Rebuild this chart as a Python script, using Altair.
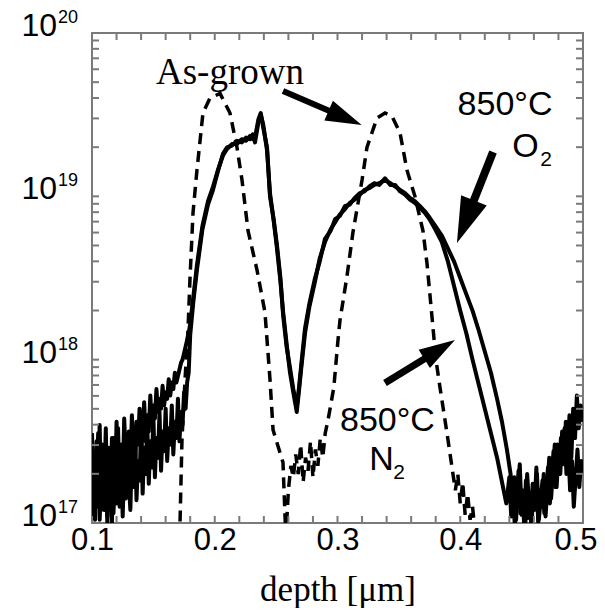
import math
import altair as alt
import pandas as pd

# ---------------- data: depth [um] and log10(concentration) ----------------
# left background region, sampled finely (shared depth grid)
left_depth = [0.10000, 0.10125, 0.10250, 0.10375, 0.10500, 0.10625, 0.10750, 0.10875, 0.11000, 0.11125,
              0.11250, 0.11375, 0.11500, 0.11625, 0.11750, 0.11875, 0.12000, 0.12125, 0.12250, 0.12375,
              0.12500, 0.12625, 0.12750, 0.12875, 0.13000, 0.13125, 0.13250, 0.13375, 0.13500, 0.13625,
              0.13750, 0.13875, 0.14000, 0.14125, 0.14250, 0.14375, 0.14500, 0.14625, 0.14750, 0.14875,
              0.15000, 0.15125, 0.15250, 0.15375, 0.15500, 0.15625, 0.15750, 0.15875, 0.16000, 0.16125,
              0.16250, 0.16375, 0.16500, 0.16625, 0.16750, 0.16875, 0.17000, 0.17125, 0.17250, 0.17375,
              0.17500, 0.17625, 0.17750, 0.17875]
o2_left_log = [17.30, 17.05, 17.42, 17.10, 17.55, 17.02, 17.28, 17.48, 17.08, 17.35,
               17.00, 17.45, 17.18, 17.52, 17.06, 17.30, 17.12, 17.58, 17.20, 17.40,
               17.04, 17.36, 17.15, 17.50, 17.25, 17.08, 17.44, 17.22, 17.56, 17.14,
               17.38, 17.26, 17.60, 17.18, 17.46, 17.30, 17.62, 17.24, 17.50, 17.34,
               17.66, 17.28, 17.52, 17.40, 17.68, 17.32, 17.56, 17.44, 17.70, 17.38,
               17.58, 17.48, 17.72, 17.42, 17.62, 17.52, 17.76, 17.50, 17.68, 17.60,
               17.80, 17.70, 17.86, 17.92]
n2_left_log = [17.55, 17.15, 17.02, 17.50, 17.30, 17.60, 17.08, 17.40, 17.22, 17.58,
               17.04, 17.46, 17.28, 17.00, 17.52, 17.18, 17.62, 17.34, 17.10, 17.48,
               17.26, 17.64, 17.40, 17.20, 17.56, 17.36, 17.66, 17.44, 17.30, 17.62,
               17.48, 17.70, 17.42, 17.58, 17.74, 17.50, 17.66, 17.56, 17.78, 17.60,
               17.72, 17.64, 17.82, 17.68, 17.76, 17.70, 17.84, 17.72, 17.80, 17.76,
               17.88, 17.78, 17.86, 17.82, 17.92, 17.86, 17.90, 17.94, 17.98, 18.00,
               18.04, 18.08, 18.12, 18.16]

# two implanted peaks (shared depth grid)
body_depth = [0.1800, 0.1825, 0.1855, 0.1900, 0.1945, 0.1986, 0.2025, 0.2067,
              0.2100, 0.2140, 0.2180, 0.2220, 0.2255, 0.2287, 0.2310, 0.2328, 0.2355, 0.2375,
              0.2395, 0.2426, 0.2450, 0.2480, 0.2507, 0.2535, 0.2556, 0.2585, 0.2613, 0.2640,
              0.2668, 0.2685, 0.2705, 0.2735, 0.2770, 0.2817, 0.2855, 0.2898, 0.2945, 0.2980,
              0.3020, 0.3060, 0.3100, 0.3140, 0.3183, 0.3220, 0.3260, 0.3300, 0.3340, 0.3387,
              0.3430, 0.3470, 0.3510, 0.3550, 0.3590, 0.3630, 0.3672, 0.3710, 0.3750, 0.3795,
              0.3850, 0.3900, 0.3950, 0.4000, 0.4050, 0.4100, 0.4150, 0.4200, 0.4250, 0.4300,
              0.4340]
o2_body_log = [18.15, 18.35, 18.55, 18.80, 18.95, 19.04, 19.15, 19.26,
               19.30, 19.31, 19.34, 19.33, 19.36, 19.35, 19.38, 19.33, 19.45, 19.50,
               19.44, 19.28, 19.02, 18.85, 18.68, 18.48, 18.30, 18.10, 17.92, 17.80,
               17.68, 17.80, 17.95, 18.16, 18.32, 18.48, 18.62, 18.72, 18.80, 18.84,
               18.89, 18.92, 18.96, 18.98, 19.01, 19.04, 19.05, 19.07, 19.08, 19.10,
               19.08, 19.06, 19.04, 19.02, 18.99, 18.97, 18.94, 18.91, 18.87, 18.82,
               18.76, 18.68, 18.60, 18.50, 18.40, 18.30, 18.18, 18.05, 17.92, 17.76,
               17.62]
n2_body_log = [18.22, 18.38, 18.58, 18.82, 18.97, 19.06, 19.16, 19.25,
               19.29, 19.32, 19.32, 19.35, 19.34, 19.37, 19.35, 19.36, 19.47, 19.51,
               19.42, 19.30, 19.00, 18.86, 18.70, 18.50, 18.28, 18.08, 17.95, 17.82,
               17.71, 17.82, 17.97, 18.19, 18.34, 18.50, 18.60, 18.74, 18.79, 18.86,
               18.88, 18.94, 18.95, 18.99, 19.02, 19.03, 19.06, 19.08, 19.07, 19.11,
               19.07, 19.07, 19.03, 19.01, 18.98, 18.96, 18.93, 18.90, 18.86, 18.80,
               18.72, 18.60, 18.45, 18.30, 18.16, 18.00, 17.85, 17.70, 17.55, 17.40,
               17.25]

# right background region
o2_right_depth = [0.4380, 0.4410, 0.4425, 0.4440, 0.4455, 0.4470, 0.4485, 0.4500, 0.4515, 0.4530,
                  0.4545, 0.4560, 0.4575, 0.4590, 0.4605, 0.4620, 0.4635, 0.4650, 0.4665, 0.4680,
                  0.4695, 0.4710, 0.4725, 0.4740, 0.4755, 0.4770, 0.4785, 0.4800, 0.4815, 0.4830,
                  0.4845, 0.4860, 0.4875, 0.4890, 0.4905, 0.4920, 0.4935, 0.4950, 0.4965, 0.4980,
                  0.5000]
o2_right_log = [17.45, 17.30, 17.10, 17.28, 17.02, 17.22, 17.36, 17.05, 17.18, 16.98,
                17.30, 17.12, 17.02, 17.24, 17.08, 17.34, 17.00, 17.20, 17.10, 17.30,
                17.04, 17.22, 17.40, 17.15, 17.32, 17.48, 17.22, 17.42, 17.30, 17.56,
                17.36, 17.62, 17.44, 17.66, 17.40, 17.70, 17.52, 17.78, 17.58, 17.72,
                17.62]
n2_right_depth = [0.4375, 0.4400, 0.4415, 0.4430, 0.4445, 0.4460, 0.4475, 0.4490, 0.4505, 0.4520,
                  0.4535, 0.4550, 0.4565, 0.4580, 0.4595, 0.4610, 0.4625, 0.4640, 0.4655, 0.4670,
                  0.4685, 0.4700, 0.4715, 0.4730, 0.4745, 0.4760, 0.4775, 0.4790, 0.4805, 0.4820,
                  0.4835, 0.4850, 0.4865, 0.4880, 0.4895, 0.4910, 0.4925, 0.4940, 0.4955, 0.4970,
                  0.4985, 0.5000]
n2_right_log = [17.12, 17.28, 17.04, 17.18, 16.98, 17.15, 17.32, 17.06, 17.20, 17.00,
                17.26, 17.03, 17.16, 16.96, 17.22, 17.10, 17.30, 17.02, 17.14, 17.26,
                17.06, 17.20, 17.34, 17.12, 17.30, 17.44, 17.22, 17.48, 17.30, 17.52,
                17.36, 17.58, 17.30, 17.46, 17.20, 17.38, 17.10, 17.28, 17.45, 17.22,
                17.38, 17.30]

asgrown_depth = [0.1700, 0.1717, 0.1733, 0.1758, 0.1782, 0.1798, 0.1823, 0.1855, 0.1904, 0.1960,
                 0.2043, 0.2124, 0.2181, 0.2222, 0.2271, 0.2344, 0.2409, 0.2450, 0.2475, 0.2556,
                 0.2572, 0.2580, 0.2600, 0.2620, 0.2640, 0.2660, 0.2680, 0.2700, 0.2720, 0.2740,
                 0.2760, 0.2780, 0.2800, 0.2820, 0.2840, 0.2860, 0.2880, 0.2900, 0.2923, 0.2970,
                 0.3004, 0.3020, 0.3077, 0.3126, 0.3200, 0.3240, 0.3322, 0.3387, 0.3444, 0.3509,
                 0.3566, 0.3631, 0.3696, 0.3729, 0.3770, 0.3802, 0.3835, 0.3892, 0.3933, 0.3960,
                 0.3980, 0.4000, 0.4020, 0.4040, 0.4060, 0.4080, 0.4100, 0.4120, 0.4150]
asgrown_log = [16.90, 17.00, 17.51, 17.88, 18.18, 18.49, 18.90, 19.16, 19.51, 19.60,
               19.63, 19.51, 19.30, 19.10, 18.79, 18.55, 18.29, 17.88, 17.57, 17.37,
               17.05, 16.92, 17.20, 17.35, 17.28, 17.42, 17.30, 17.48, 17.25, 17.40,
               17.32, 17.50, 17.28, 17.45, 17.35, 17.52, 17.40, 17.55, 17.63, 17.83,
               18.12, 18.24, 18.51, 18.78, 19.10, 19.30, 19.48, 19.51, 19.49, 19.39,
               19.16, 19.00, 18.79, 18.59, 18.26, 18.00, 17.83, 17.55, 17.34, 17.20,
               17.30, 17.12, 17.25, 17.05, 17.18, 17.02, 17.10, 16.95, 16.85]

x_label_values = [0.1, 0.2, 0.3, 0.4, 0.5]
x_tick_values = [0.10, 0.12, 0.14, 0.16, 0.18, 0.20, 0.22, 0.24, 0.26, 0.28, 0.30,
                 0.32, 0.34, 0.36, 0.38, 0.40, 0.42, 0.44, 0.46, 0.48, 0.50]
decade_exponents = [17, 18, 19, 20]
minor_multipliers = [1, 2, 3, 4, 5, 6, 7, 8, 9]

# annotation anchors (data coordinates: depth, log10 concentration)
arrow_tail_depth = [0.2556, 0.4267, 0.3387]
arrow_tail_log = [19.645, 19.271, 17.857]
arrow_tip_depth = [0.3197, 0.3973, 0.3957]
arrow_tip_log = [19.437, 18.714, 18.120]

# ---------------- geometry ----------------
W, H = 491, 490
XMIN, XMAX = 0.1, 0.5
LMIN, LMAX = 17.0, 20.0
BLACK = "#000000"
FRAME = "#7a7a7a"
SANS = "Liberation Sans"
SERIF = "Liberation Serif"
TICK = 7


def to_px(x, l):
    return (x - XMIN) / (XMAX - XMIN) * W, (LMAX - l) / (LMAX - LMIN) * H


def from_px(px, py):
    return XMIN + px / W * (XMAX - XMIN), LMAX - py / H * (LMAX - LMIN)


xs = alt.Scale(domain=[XMIN, XMAX], nice=False, zero=False)
ys = alt.Scale(type="log", domain=[10 ** LMIN, 10 ** LMAX], nice=False)

x_axis = alt.Axis(
    values=x_label_values, format=".1f", labelFont=SANS, labelFontSize=31,
    labelColor=BLACK, labelFlush=False, ticks=False, domain=False, grid=False,
    labelAlign={"condition": {"test": "datum.value > 0.45", "value": "right"}, "value": "center"},
    labelOffset={"condition": {"test": "datum.value > 0.45", "value": 14}, "value": 0},
    labelPadding=2, title="depth [μm]", titleFont=SERIF, titleFontSize=35,
    titleFontWeight="normal", titleColor=BLACK, titlePadding=17)


def X(field):
    return alt.X(field, scale=xs, axis=x_axis)


def Y(field):
    return alt.Y(field, scale=ys, axis=None)


def curve_df(depth, logs, name):
    return pd.DataFrame({"depth": depth, "conc": [10 ** v for v in logs],
                         "series": name, "i": list(range(len(depth)))})


solid_df = pd.concat([
    curve_df(left_depth + body_depth + o2_right_depth,
             o2_left_log + o2_body_log + o2_right_log, "850C O2"),
    curve_df(left_depth + body_depth[:-1] + n2_right_depth,
             n2_left_log + n2_body_log[:-1] + n2_right_log, "850C N2"),
], ignore_index=True)
dash_df = curve_df(asgrown_depth, asgrown_log, "As-grown")

solid = alt.Chart(solid_df).mark_line(color=BLACK, strokeWidth=4, clip=True,
                                      strokeJoin="round").encode(
    x=X("depth:Q"), y=Y("conc:Q"), detail="series:N", order="i:Q")

dashed = alt.Chart(dash_df).mark_line(color=BLACK, strokeWidth=3.5, clip=True,
                                      strokeDash=[11, 7]).encode(
    x=X("depth:Q"), y=Y("conc:Q"), order="i:Q")

# ---- inward ticks on all four sides (segments in data units) ----
ytick_vals = [m * 10 ** e for e in decade_exponents[:-1] for m in minor_multipliers] + [10 ** decade_exponents[-1]]
dx_tick = from_px(TICK, 0)[0] - XMIN
dl_tick = LMIN - from_px(0, H - TICK)[1]
tick_rows = []
for v in ytick_vals:
    tick_rows.append({"a": XMIN, "a2": XMIN + dx_tick, "b": v, "b2": v})
    tick_rows.append({"a": XMAX - dx_tick, "a2": XMAX, "b": v, "b2": v})
for v in x_tick_values:
    tick_rows.append({"a": v, "a2": v, "b": 10 ** LMIN, "b2": 10 ** (LMIN - dl_tick)})
    tick_rows.append({"a": v, "a2": v, "b": 10 ** (LMAX + dl_tick), "b2": 10 ** LMAX})
ticks = alt.Chart(pd.DataFrame(tick_rows)).mark_rule(color=FRAME, strokeWidth=2).encode(
    x=X("a:Q"), x2="a2:Q", y=Y("b:Q"), y2="b2:Q")

# ---- y tick labels 10^n ----
ylab_df = pd.DataFrame({"v": [10 ** e for e in decade_exponents],
                        "base": ["10"] * len(decade_exponents),
                        "exp": [str(e) for e in decade_exponents]})
ylab_base = alt.Chart(ylab_df).mark_text(font=SANS, fontSize=32, align="right",
                                         baseline="middle", dy=-7, color=BLACK).encode(
    y=Y("v:Q"), x=alt.value(-35), text="base:N")
ylab_exp = alt.Chart(ylab_df).mark_text(font=SANS, fontSize=18, align="left",
                                        baseline="middle", dy=-15, color=BLACK).encode(
    y=Y("v:Q"), x=alt.value(-34), text="exp:N")


# ---- text annotations ----
def text_layer(x, l, t, font, size):
    df = pd.DataFrame({"x": [x], "y": [10 ** l], "t": [t]})
    return alt.Chart(df).mark_text(font=font, fontSize=size, align="center",
                                   baseline="middle", color=BLACK).encode(
        x=X("x:Q"), y=Y("y:Q"), text="t:N")


texts = [
    text_layer(0.2124, 19.755, "As-grown", SERIF, 37),
    text_layer(0.4365, 19.559, "850°C", SANS, 34),
    text_layer(0.4531, 19.302, "O", SANS, 34),
    text_layer(0.4699, 19.222, "2", SANS, 21),
    text_layer(0.3407, 17.624, "850°C", SANS, 34),
    text_layer(0.3358, 17.383, "N", SANS, 34),
    text_layer(0.3501, 17.306, "2", SANS, 21),
]

# ---- arrows: shaft + arrowhead ----
head_len = [36, 46, 36]
shaft_w = [6, 8, 7]
rows_shaft, rows_head = [], []
for k in range(len(arrow_tail_depth)):
    tx, ty = to_px(arrow_tail_depth[k], arrow_tail_log[k])
    px, py = to_px(arrow_tip_depth[k], arrow_tip_log[k])
    ddx, ddy = px - tx, py - ty
    n = math.hypot(ddx, ddy)
    ux, uy = ddx / n, ddy / n
    ex, ey = from_px(px - ux * head_len[k] * 0.55, py - uy * head_len[k] * 0.55)
    rows_shaft.append({"x": arrow_tail_depth[k], "y": 10 ** arrow_tail_log[k],
                       "x2": ex, "y2": 10 ** ey, "w": shaft_w[k]})
    ang = math.degrees(math.atan2(ux, -uy)) % 360
    rows_head.append({"x": arrow_tip_depth[k], "y": 10 ** arrow_tip_log[k],
                      "ang": ang, "s": head_len[k] ** 2})

shafts = alt.Chart(pd.DataFrame(rows_shaft)).mark_rule(color=BLACK, strokeCap="butt").encode(
    x=X("x:Q"), y=Y("y:Q"), x2="x2:Q", y2="y2:Q",
    strokeWidth=alt.StrokeWidth("w:Q", scale=None, legend=None),
)
heads = alt.Chart(pd.DataFrame(rows_head)).mark_point(
    shape="M0,0L0.6,2L-0.6,2Z", filled=True, color=BLACK, opacity=1, strokeWidth=0).encode(
    x=X("x:Q"), y=Y("y:Q"),
    angle=alt.Angle("ang:Q", scale=None),
    size=alt.Size("s:Q", scale=None, legend=None),
)

chart = alt.layer(
    dashed, solid, ticks, ylab_base, ylab_exp, shafts, heads, *texts
).properties(
    width=W, height=H,
    background="white",
    autosize=alt.AutoSizeParams(type="none"),
    padding={"left": 84, "top": 25, "right": 14, "bottom": 85},
).configure_view(stroke=FRAME, strokeWidth=2)

chart.save("out.html", embed_options={"renderer": "svg", "actions": False})
